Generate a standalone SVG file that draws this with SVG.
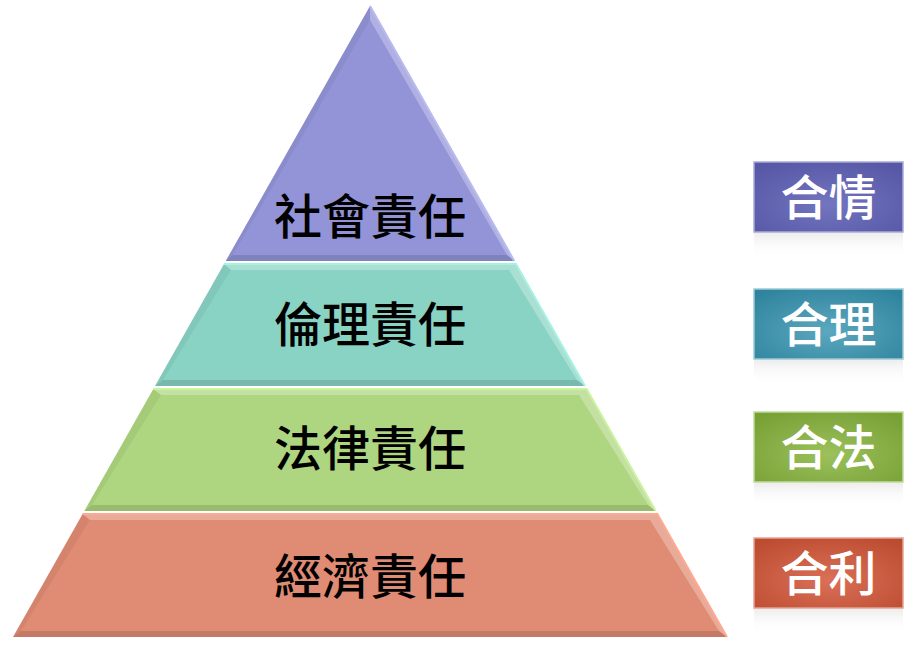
<svg xmlns="http://www.w3.org/2000/svg" width="915" height="648" viewBox="0 0 915 648">
<defs>
<style>
.lbl{font-family:"Noto Sans CJK TC","Noto Sans CJK SC",sans-serif;font-size:48px;font-weight:500;fill:#000;text-anchor:middle}
.tag{font-family:"Noto Sans CJK TC","Noto Sans CJK SC",sans-serif;font-size:48px;font-weight:500;fill:#fff;text-anchor:middle}
.lt{fill:#fff;opacity:0.28}
.dk{fill:#000;opacity:0.12}
.sd{fill:#000;opacity:0.05}
.box{stroke-width:1.5}
</style>
<radialGradient id="g1" cx="0.5" cy="0.6" r="0.7"><stop offset="0" stop-color="#7475C0"/><stop offset="1" stop-color="#5657A5"/></radialGradient>
<radialGradient id="g2" cx="0.5" cy="0.6" r="0.7"><stop offset="0" stop-color="#5BA8BF"/><stop offset="1" stop-color="#2F849D"/></radialGradient>
<radialGradient id="g3" cx="0.5" cy="0.6" r="0.7"><stop offset="0" stop-color="#9CC15C"/><stop offset="1" stop-color="#77A035"/></radialGradient>
<radialGradient id="g4" cx="0.5" cy="0.6" r="0.7"><stop offset="0" stop-color="#DA7058"/><stop offset="1" stop-color="#BC4C30"/></radialGradient>
<linearGradient id="refl" x1="0" y1="0" x2="0" y2="1"><stop offset="0" stop-color="#C8C8C8" stop-opacity="0.35"/><stop offset="1" stop-color="#FFFFFF" stop-opacity="0"/></linearGradient>
</defs>
<rect width="915" height="648" fill="#fff"/>

<g id="layer-social">
<polygon points="370,6 514.3,261 225.7,261" fill="#9294D7"/>
<polygon class="lt" points="370,6 514.3,261 507,255 370,20"/>
<polygon class="sd" points="370,6 225.7,261 233,255 370,20"/>
<polygon class="dk" points="225.7,261 514.3,261 507,255 233,255"/>
<polygon points="370,6 514.3,261" fill="none" stroke="#B8BAF0" stroke-width="2"/>
<text class="lbl" x="370" y="234">社會責任</text>
</g>

<g id="layer-ethical">
<polygon points="224,264 516,264 585,386 155,386" fill="#89D3C4"/>
<polygon class="lt" points="224,264 516,264 509,270 231,270"/>
<polygon class="lt" points="516,264 585,386 577,380 509,270"/>
<polygon class="sd" points="224,264 231,270 163,380 155,386"/>
<polygon class="dk" points="155,386 585,386 577,380 163,380"/>
<polyline points="224,264 516,264 585,386" fill="none" stroke="#A8F2E4" stroke-width="2"/>
<text class="lbl" x="370" y="342">倫理責任</text>
</g>

<g id="layer-legal">
<polygon points="153.3,389 586.7,389 655.7,511 84.3,511" fill="#AED57F"/>
<polygon class="lt" points="153.3,389 586.7,389 579,395 161,395"/>
<polygon class="lt" points="586.7,389 655.7,511 648,505 579,395"/>
<polygon class="sd" points="153.3,389 161,395 92,505 84.3,511"/>
<polygon class="dk" points="84.3,511 655.7,511 648,505 92,505"/>
<polyline points="153.3,389 586.7,389 655.7,511" fill="none" stroke="#CBF4A0" stroke-width="2"/>
<text class="lbl" x="370" y="466">法律責任</text>
</g>

<g id="layer-economic">
<polygon points="82.6,514 657.4,514 727,637 13,637" fill="#E08B73"/>
<polygon class="lt" points="82.6,514 657.4,514 650,520 90,520"/>
<polygon class="lt" points="657.4,514 727,637 719,631 650,520"/>
<polygon class="sd" points="82.6,514 90,520 21,631 13,637"/>
<polygon class="dk" points="13,637 727,637 719,631 21,631"/>
<polyline points="82.6,514 657.4,514 727,637" fill="none" stroke="#FFAA90" stroke-width="2"/>
<text class="lbl" x="370" y="594">經濟責任</text>
</g>

<g id="tag-qing">
<rect x="754" y="232" width="149" height="26" fill="url(#refl)"/>
<rect class="box" x="754" y="162" width="149" height="70" fill="url(#g1)" stroke="#A9AAD8"/>
<text class="tag" x="828.5" y="215">合情</text>
</g>
<g id="tag-li-reason">
<rect x="754" y="359" width="149" height="26" fill="url(#refl)"/>
<rect class="box" x="754" y="289" width="149" height="70" fill="url(#g2)" stroke="#9CCAD8"/>
<text class="tag" x="828.5" y="342">合理</text>
</g>
<g id="tag-fa">
<rect x="754" y="482" width="149" height="26" fill="url(#refl)"/>
<rect class="box" x="754" y="412" width="149" height="70" fill="url(#g3)" stroke="#C3DA9E"/>
<text class="tag" x="828.5" y="465">合法</text>
</g>
<g id="tag-li-profit">
<rect x="754" y="608" width="149" height="26" fill="url(#refl)"/>
<rect class="box" x="754" y="538" width="149" height="70" fill="url(#g4)" stroke="#E5A393"/>
<text class="tag" x="828.5" y="591">合利</text>
</g>

<g id="connectors"></g>
</svg>
